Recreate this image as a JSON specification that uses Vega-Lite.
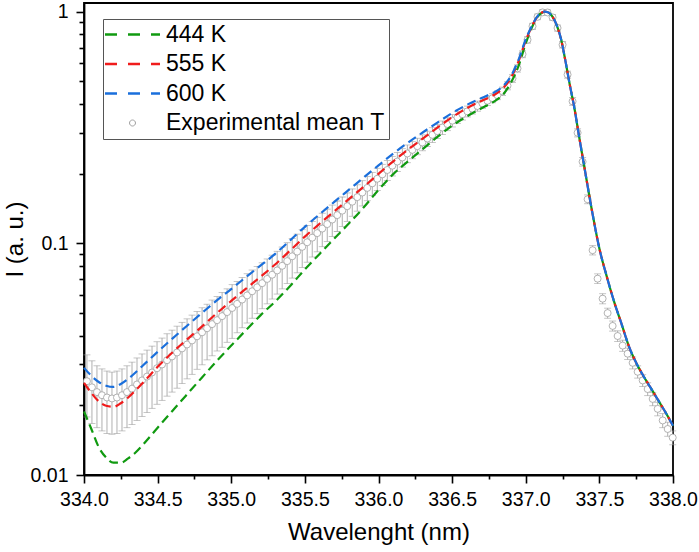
{
  "$schema": "https://vega.github.io/schema/vega-lite/v6.json",
  "width": 589,
  "height": 472,
  "autosize": "none",
  "padding": {"left": 84, "top": 3, "right": 26, "bottom": 77},
  "config": {
    "font": "Liberation Sans",
    "view": {"stroke": "black", "strokeWidth": 1.8},
    "axis": {
      "domainColor": "black", "domainWidth": 1.8,
      "ticks": true, "tickColor": "black", "tickWidth": 1.6, "tickSize": 8,
      "labelColor": "black", "titleColor": "black",
      "labelFont": "Liberation Sans", "titleFont": "Liberation Sans",
      "labelFontSize": 19.5, "titleFontSize": 24, "titleFontWeight": "normal",
      "grid": false, "labelOverlap": false, "labelFlush": false
    }
  },
  "datasets": {
    "models": [
      {"x": 334.00, "444 K": 0.0188, "555 K": 0.0250, "600 K": 0.0290},
      {"x": 334.05, "444 K": 0.0158, "555 K": 0.0226, "600 K": 0.0268},
      {"x": 334.10, "444 K": 0.0132, "555 K": 0.0208, "600 K": 0.0252},
      {"x": 334.15, "444 K": 0.0119, "555 K": 0.0199, "600 K": 0.0243},
      {"x": 334.20, "444 K": 0.0113, "555 K": 0.0197, "600 K": 0.0240},
      {"x": 334.25, "444 K": 0.0113, "555 K": 0.0204, "600 K": 0.0247},
      {"x": 334.30, "444 K": 0.0118, "555 K": 0.0216, "600 K": 0.0260},
      {"x": 334.35, "444 K": 0.0125, "555 K": 0.0232, "600 K": 0.0277},
      {"x": 334.40, "444 K": 0.0135, "555 K": 0.0250, "600 K": 0.0297},
      {"x": 334.50, "444 K": 0.0160, "555 K": 0.0293, "600 K": 0.0340},
      {"x": 334.60, "444 K": 0.0189, "555 K": 0.0338, "600 K": 0.0388},
      {"x": 334.70, "444 K": 0.0223, "555 K": 0.0385, "600 K": 0.0441},
      {"x": 334.80, "444 K": 0.0263, "555 K": 0.0437, "600 K": 0.0500},
      {"x": 334.90, "444 K": 0.0310, "555 K": 0.0498, "600 K": 0.0566},
      {"x": 335.00, "444 K": 0.0362, "555 K": 0.0564, "600 K": 0.0635},
      {"x": 335.10, "444 K": 0.0422, "555 K": 0.0637, "600 K": 0.0715},
      {"x": 335.20, "444 K": 0.0490, "555 K": 0.0718, "600 K": 0.0803},
      {"x": 335.30, "444 K": 0.0562, "555 K": 0.0812, "600 K": 0.0903},
      {"x": 335.40, "444 K": 0.0655, "555 K": 0.0931, "600 K": 0.1030},
      {"x": 335.50, "444 K": 0.0772, "555 K": 0.1069, "600 K": 0.1178},
      {"x": 335.60, "444 K": 0.0900, "555 K": 0.1215, "600 K": 0.1335},
      {"x": 335.70, "444 K": 0.1050, "555 K": 0.1375, "600 K": 0.1510},
      {"x": 335.80, "444 K": 0.1220, "555 K": 0.1555, "600 K": 0.1705},
      {"x": 335.90, "444 K": 0.1430, "555 K": 0.1755, "600 K": 0.1925},
      {"x": 336.00, "444 K": 0.1700, "555 K": 0.1995, "600 K": 0.2170},
      {"x": 336.10, "444 K": 0.1990, "555 K": 0.2260, "600 K": 0.2440},
      {"x": 336.20, "444 K": 0.2260, "555 K": 0.2540, "600 K": 0.2720},
      {"x": 336.30, "444 K": 0.2550, "555 K": 0.2830, "600 K": 0.3010},
      {"x": 336.40, "444 K": 0.2880, "555 K": 0.3160, "600 K": 0.3320},
      {"x": 336.50, "444 K": 0.3220, "555 K": 0.3500, "600 K": 0.3650},
      {"x": 336.60, "444 K": 0.3530, "555 K": 0.3830, "600 K": 0.3960},
      {"x": 336.70, "444 K": 0.3830, "555 K": 0.4120, "600 K": 0.4240},
      {"x": 336.75, "444 K": 0.3980, "555 K": 0.4260, "600 K": 0.4380},
      {"x": 336.80, "444 K": 0.4150, "555 K": 0.4430, "600 K": 0.4540},
      {"x": 336.85, "444 K": 0.4420, "555 K": 0.4700, "600 K": 0.4800},
      {"x": 336.90, "444 K": 0.4950, "555 K": 0.5180, "600 K": 0.5280},
      {"x": 336.95, "444 K": 0.5800, "555 K": 0.6080, "600 K": 0.6180},
      {"x": 337.00, "444 K": 0.7300, "555 K": 0.7500, "600 K": 0.7600},
      {"x": 337.04, "444 K": 0.8500, "555 K": 0.8600, "600 K": 0.8650},
      {"x": 337.08, "444 K": 0.9500, "555 K": 0.9550, "600 K": 0.9570},
      {"x": 337.11, "444 K": 0.9900, "555 K": 0.9920, "600 K": 0.9930},
      {"x": 337.13, "444 K": 1.0000, "555 K": 1.0000, "600 K": 1.0000},
      {"x": 337.15, "444 K": 0.9950, "555 K": 0.9950, "600 K": 0.9950},
      {"x": 337.18, "444 K": 0.9550, "555 K": 0.9550, "600 K": 0.9550},
      {"x": 337.21, "444 K": 0.8750, "555 K": 0.8750, "600 K": 0.8750},
      {"x": 337.24, "444 K": 0.7600, "555 K": 0.7600, "600 K": 0.7600},
      {"x": 337.27, "444 K": 0.6100, "555 K": 0.6100, "600 K": 0.6100},
      {"x": 337.30, "444 K": 0.4800, "555 K": 0.4800, "600 K": 0.4800},
      {"x": 337.33, "444 K": 0.3850, "555 K": 0.3850, "600 K": 0.3850},
      {"x": 337.36, "444 K": 0.2950, "555 K": 0.2950, "600 K": 0.2950},
      {"x": 337.40, "444 K": 0.2100, "555 K": 0.2100, "600 K": 0.2100},
      {"x": 337.45, "444 K": 0.1380, "555 K": 0.1380, "600 K": 0.1380},
      {"x": 337.50, "444 K": 0.0950, "555 K": 0.0950, "600 K": 0.0950},
      {"x": 337.55, "444 K": 0.0720, "555 K": 0.0720, "600 K": 0.0720},
      {"x": 337.60, "444 K": 0.0560, "555 K": 0.0560, "600 K": 0.0560},
      {"x": 337.65, "444 K": 0.0450, "555 K": 0.0450, "600 K": 0.0450},
      {"x": 337.70, "444 K": 0.0360, "555 K": 0.0360, "600 K": 0.0360},
      {"x": 337.75, "444 K": 0.0305, "555 K": 0.0305, "600 K": 0.0305},
      {"x": 337.80, "444 K": 0.0267, "555 K": 0.0267, "600 K": 0.0267},
      {"x": 337.85, "444 K": 0.0237, "555 K": 0.0237, "600 K": 0.0237},
      {"x": 337.90, "444 K": 0.0210, "555 K": 0.0210, "600 K": 0.0210},
      {"x": 337.95, "444 K": 0.0186, "555 K": 0.0186, "600 K": 0.0186},
      {"x": 338.00, "444 K": 0.0163, "555 K": 0.0163, "600 K": 0.0163}
    ],
    "experimental": [
      {"x": 334.020, "I": 0.0254, "err": 0.0076},
      {"x": 334.054, "I": 0.0239, "err": 0.0072},
      {"x": 334.088, "I": 0.0228, "err": 0.0068},
      {"x": 334.122, "I": 0.0221, "err": 0.0066},
      {"x": 334.156, "I": 0.0216, "err": 0.0065},
      {"x": 334.190, "I": 0.0214, "err": 0.0064},
      {"x": 334.224, "I": 0.0216, "err": 0.0065},
      {"x": 334.258, "I": 0.0221, "err": 0.0066},
      {"x": 334.292, "I": 0.0228, "err": 0.0068},
      {"x": 334.326, "I": 0.0236, "err": 0.0071},
      {"x": 334.360, "I": 0.0246, "err": 0.0074},
      {"x": 334.394, "I": 0.0256, "err": 0.0077},
      {"x": 334.428, "I": 0.0266, "err": 0.0080},
      {"x": 334.462, "I": 0.0277, "err": 0.0083},
      {"x": 334.496, "I": 0.0289, "err": 0.0087},
      {"x": 334.530, "I": 0.0300, "err": 0.0090},
      {"x": 334.564, "I": 0.0313, "err": 0.0094},
      {"x": 334.598, "I": 0.0325, "err": 0.0097},
      {"x": 334.632, "I": 0.0338, "err": 0.0101},
      {"x": 334.666, "I": 0.0352, "err": 0.0104},
      {"x": 334.700, "I": 0.0366, "err": 0.0106},
      {"x": 334.734, "I": 0.0381, "err": 0.0109},
      {"x": 334.768, "I": 0.0397, "err": 0.0111},
      {"x": 334.802, "I": 0.0413, "err": 0.0114},
      {"x": 334.836, "I": 0.0430, "err": 0.0116},
      {"x": 334.870, "I": 0.0448, "err": 0.0121},
      {"x": 334.904, "I": 0.0466, "err": 0.0123},
      {"x": 334.938, "I": 0.0485, "err": 0.0129},
      {"x": 334.972, "I": 0.0505, "err": 0.0131},
      {"x": 335.006, "I": 0.0526, "err": 0.0137},
      {"x": 335.040, "I": 0.0548, "err": 0.0137},
      {"x": 335.074, "I": 0.0572, "err": 0.0140},
      {"x": 335.108, "I": 0.0596, "err": 0.0143},
      {"x": 335.142, "I": 0.0621, "err": 0.0146},
      {"x": 335.176, "I": 0.0646, "err": 0.0149},
      {"x": 335.210, "I": 0.0673, "err": 0.0151},
      {"x": 335.244, "I": 0.0702, "err": 0.0154},
      {"x": 335.278, "I": 0.0732, "err": 0.0157},
      {"x": 335.312, "I": 0.0764, "err": 0.0160},
      {"x": 335.346, "I": 0.0800, "err": 0.0164},
      {"x": 335.380, "I": 0.0838, "err": 0.0168},
      {"x": 335.414, "I": 0.0879, "err": 0.0171},
      {"x": 335.448, "I": 0.0921, "err": 0.0175},
      {"x": 335.482, "I": 0.0966, "err": 0.0179},
      {"x": 335.516, "I": 0.1011, "err": 0.0182},
      {"x": 335.550, "I": 0.1058, "err": 0.0185},
      {"x": 335.584, "I": 0.1107, "err": 0.0188},
      {"x": 335.618, "I": 0.1158, "err": 0.0191},
      {"x": 335.652, "I": 0.1211, "err": 0.0194},
      {"x": 335.686, "I": 0.1267, "err": 0.0196},
      {"x": 335.720, "I": 0.1324, "err": 0.0199},
      {"x": 335.754, "I": 0.1384, "err": 0.0201},
      {"x": 335.788, "I": 0.1447, "err": 0.0203},
      {"x": 335.822, "I": 0.1513, "err": 0.0204},
      {"x": 335.856, "I": 0.1583, "err": 0.0206},
      {"x": 335.890, "I": 0.1657, "err": 0.0207},
      {"x": 335.924, "I": 0.1735, "err": 0.0208},
      {"x": 335.958, "I": 0.1816, "err": 0.0209},
      {"x": 335.992, "I": 0.1900, "err": 0.0209},
      {"x": 336.026, "I": 0.1985, "err": 0.0208},
      {"x": 336.060, "I": 0.2073, "err": 0.0207},
      {"x": 336.094, "I": 0.2164, "err": 0.0210},
      {"x": 336.128, "I": 0.2255, "err": 0.0212},
      {"x": 336.162, "I": 0.2348, "err": 0.0214},
      {"x": 336.196, "I": 0.2443, "err": 0.0215},
      {"x": 336.230, "I": 0.2532, "err": 0.0215},
      {"x": 336.264, "I": 0.2627, "err": 0.0215},
      {"x": 336.298, "I": 0.2724, "err": 0.0215},
      {"x": 336.332, "I": 0.2834, "err": 0.0215},
      {"x": 336.366, "I": 0.2941, "err": 0.0215},
      {"x": 336.400, "I": 0.3050, "err": 0.0214},
      {"x": 336.434, "I": 0.3161, "err": 0.0212},
      {"x": 336.468, "I": 0.3274, "err": 0.0210},
      {"x": 336.502, "I": 0.3386, "err": 0.0207},
      {"x": 336.536, "I": 0.3499, "err": 0.0203},
      {"x": 336.570, "I": 0.3608, "err": 0.0202},
      {"x": 336.604, "I": 0.3712, "err": 0.0200},
      {"x": 336.638, "I": 0.3813, "err": 0.0198},
      {"x": 336.672, "I": 0.3915, "err": 0.0196},
      {"x": 336.706, "I": 0.4019, "err": 0.0193},
      {"x": 336.740, "I": 0.4125, "err": 0.0190},
      {"x": 336.774, "I": 0.4234, "err": 0.0191},
      {"x": 336.808, "I": 0.4360, "err": 0.0192},
      {"x": 336.842, "I": 0.4535, "err": 0.0190},
      {"x": 336.876, "I": 0.4790, "err": 0.0192},
      {"x": 336.910, "I": 0.5150, "err": 0.0196},
      {"x": 336.944, "I": 0.5690, "err": 0.0205},
      {"x": 336.978, "I": 0.6550, "err": 0.0223},
      {"x": 337.012, "I": 0.7560, "err": 0.0242},
      {"x": 337.046, "I": 0.8650, "err": 0.0260},
      {"x": 337.080, "I": 0.9500, "err": 0.0266},
      {"x": 337.114, "I": 0.9930, "err": 0.0248},
      {"x": 337.148, "I": 0.9920, "err": 0.0248},
      {"x": 337.182, "I": 0.9450, "err": 0.0265},
      {"x": 337.216, "I": 0.8500, "err": 0.0255},
      {"x": 337.250, "I": 0.7200, "err": 0.0230},
      {"x": 337.284, "I": 0.5350, "err": 0.0187},
      {"x": 337.318, "I": 0.4100, "err": 0.0156},
      {"x": 337.352, "I": 0.3000, "err": 0.0120},
      {"x": 337.386, "I": 0.2250, "err": 0.0095},
      {"x": 337.420, "I": 0.1550, "err": 0.0068},
      {"x": 337.454, "I": 0.0934, "err": 0.0043},
      {"x": 337.488, "I": 0.0704, "err": 0.0034},
      {"x": 337.522, "I": 0.0577, "err": 0.0029},
      {"x": 337.556, "I": 0.0500, "err": 0.0025},
      {"x": 337.590, "I": 0.0440, "err": 0.0022},
      {"x": 337.624, "I": 0.0398, "err": 0.0021},
      {"x": 337.658, "I": 0.0362, "err": 0.0020},
      {"x": 337.692, "I": 0.0334, "err": 0.0019},
      {"x": 337.726, "I": 0.0305, "err": 0.0018},
      {"x": 337.760, "I": 0.0279, "err": 0.0017},
      {"x": 337.794, "I": 0.0256, "err": 0.0015},
      {"x": 337.828, "I": 0.0235, "err": 0.0015},
      {"x": 337.862, "I": 0.0213, "err": 0.0014},
      {"x": 337.896, "I": 0.0193, "err": 0.0013},
      {"x": 337.930, "I": 0.0172, "err": 0.0012},
      {"x": 337.964, "I": 0.0158, "err": 0.0011},
      {"x": 337.998, "I": 0.0145, "err": 0.0010}
    ]
  },
  "encoding": {
    "x": {
      "field": "x",
      "type": "quantitative",
      "title": "Wavelenght (nm)",
      "scale": {"domain": [334, 338], "nice": false, "zero": false},
      "axis": {
        "values": [334, 334.25, 334.5, 334.75, 335, 335.25, 335.5, 335.75, 336, 336.25, 336.5, 336.75, 337, 337.25, 337.5, 337.75, 338],
        "labelExpr": "(datum.value * 4) % 2 == 1 ? '' : format(datum.value, '.1f')",
        "tickDash": {"condition": {"test": "(datum.value * 4) % 2 == 1", "value": [4, 20]}, "value": [20, 0]},
        "labelPadding": 7,
        "titlePadding": 12
      }
    },
    "y": {
      "field": "I",
      "type": "quantitative",
      "title": "I (a. u.)",
      "scale": {"type": "log", "domain": [0.01, 1.09], "nice": false},
      "axis": {
        "values": [0.01, 0.02, 0.03, 0.04, 0.05, 0.06, 0.07, 0.08, 0.09, 0.1, 0.2, 0.3, 0.4, 0.5, 0.6, 0.7, 0.8, 0.9, 1],
        "labelExpr": "datum.value == 1 ? '1' : datum.value == 0.1 ? '0.1' : datum.value == 0.01 ? '0.01' : ''",
        "tickDash": {"condition": {"test": "datum.value == 1 || datum.value == 0.1 || datum.value == 0.01", "value": [20, 0]}, "value": [5, 20]},
        "labelPadding": 8,
        "titlePadding": 3
      }
    }
  },
  "layer": [
    {
      "data": {"name": "experimental"},
      "mark": {
        "type": "errorbar",
        "color": "#9a9a9a",
        "thickness": 0.8,
        "ticks": {"size": 7, "color": "#9a9a9a", "thickness": 0.8}
      },
      "encoding": {
        "yError": {"field": "err"}
      }
    },
    {
      "data": {"name": "experimental"},
      "mark": {"type": "point", "filled": false, "fill": "white", "size": 49, "strokeWidth": 0.8, "opacity": 1},
      "encoding": {
        "color": {"datum": "Experimental mean T", "type": "nominal"}
      }
    },
    {
      "data": {"name": "models"},
      "transform": [{"fold": ["444 K", "555 K", "600 K"], "as": ["series", "I"]}],
      "mark": {"type": "line", "strokeWidth": 2.2, "strokeDash": [9, 5], "interpolate": "monotone"},
      "encoding": {
        "color": {
          "field": "series",
          "type": "nominal",
          "scale": {
            "domain": ["444 K", "555 K", "600 K", "Experimental mean T"],
            "range": ["#109a10", "#f01c1c", "#1a6fdc", "#a0a0a0"]
          },
          "legend": {
            "title": null,
            "orient": "none",
            "legendX": 19,
            "legendY": 16,
            "padding": 4,
            "strokeColor": "#555555",
            "fillColor": "white",
            "labelFont": "Liberation Sans",
            "labelFontSize": 23,
            "labelColor": "black",
            "labelOffset": 36,
            "labelLimit": 400,
            "rowPadding": 5.5,
            "symbolOffset": 0,
            "symbolSize": 400,
            "encode": {
              "symbols": {
                "update": {
                  "shape": {"signal": "datum.value === 'Experimental mean T' ? 'M1.7,0A0.3,0.3 0 1,1 1.1,0A0.3,0.3 0 1,1 1.7,0Z' : 'M-1.35,0H4.15'"},
                  "size": {"value": 400},
                  "stroke": {"scale": "color", "field": "value"},
                  "fill": {"value": "white"},
                  "strokeWidth": {"signal": "datum.value === 'Experimental mean T' ? 1 : 2.5"},
                  "strokeDash": {"signal": "datum.value === 'Experimental mean T' ? [100, 0] : [12, 11]"},
                  "opacity": {"value": 1}
                }
              }
            }
          }
        }
      }
    }
  ]
}
